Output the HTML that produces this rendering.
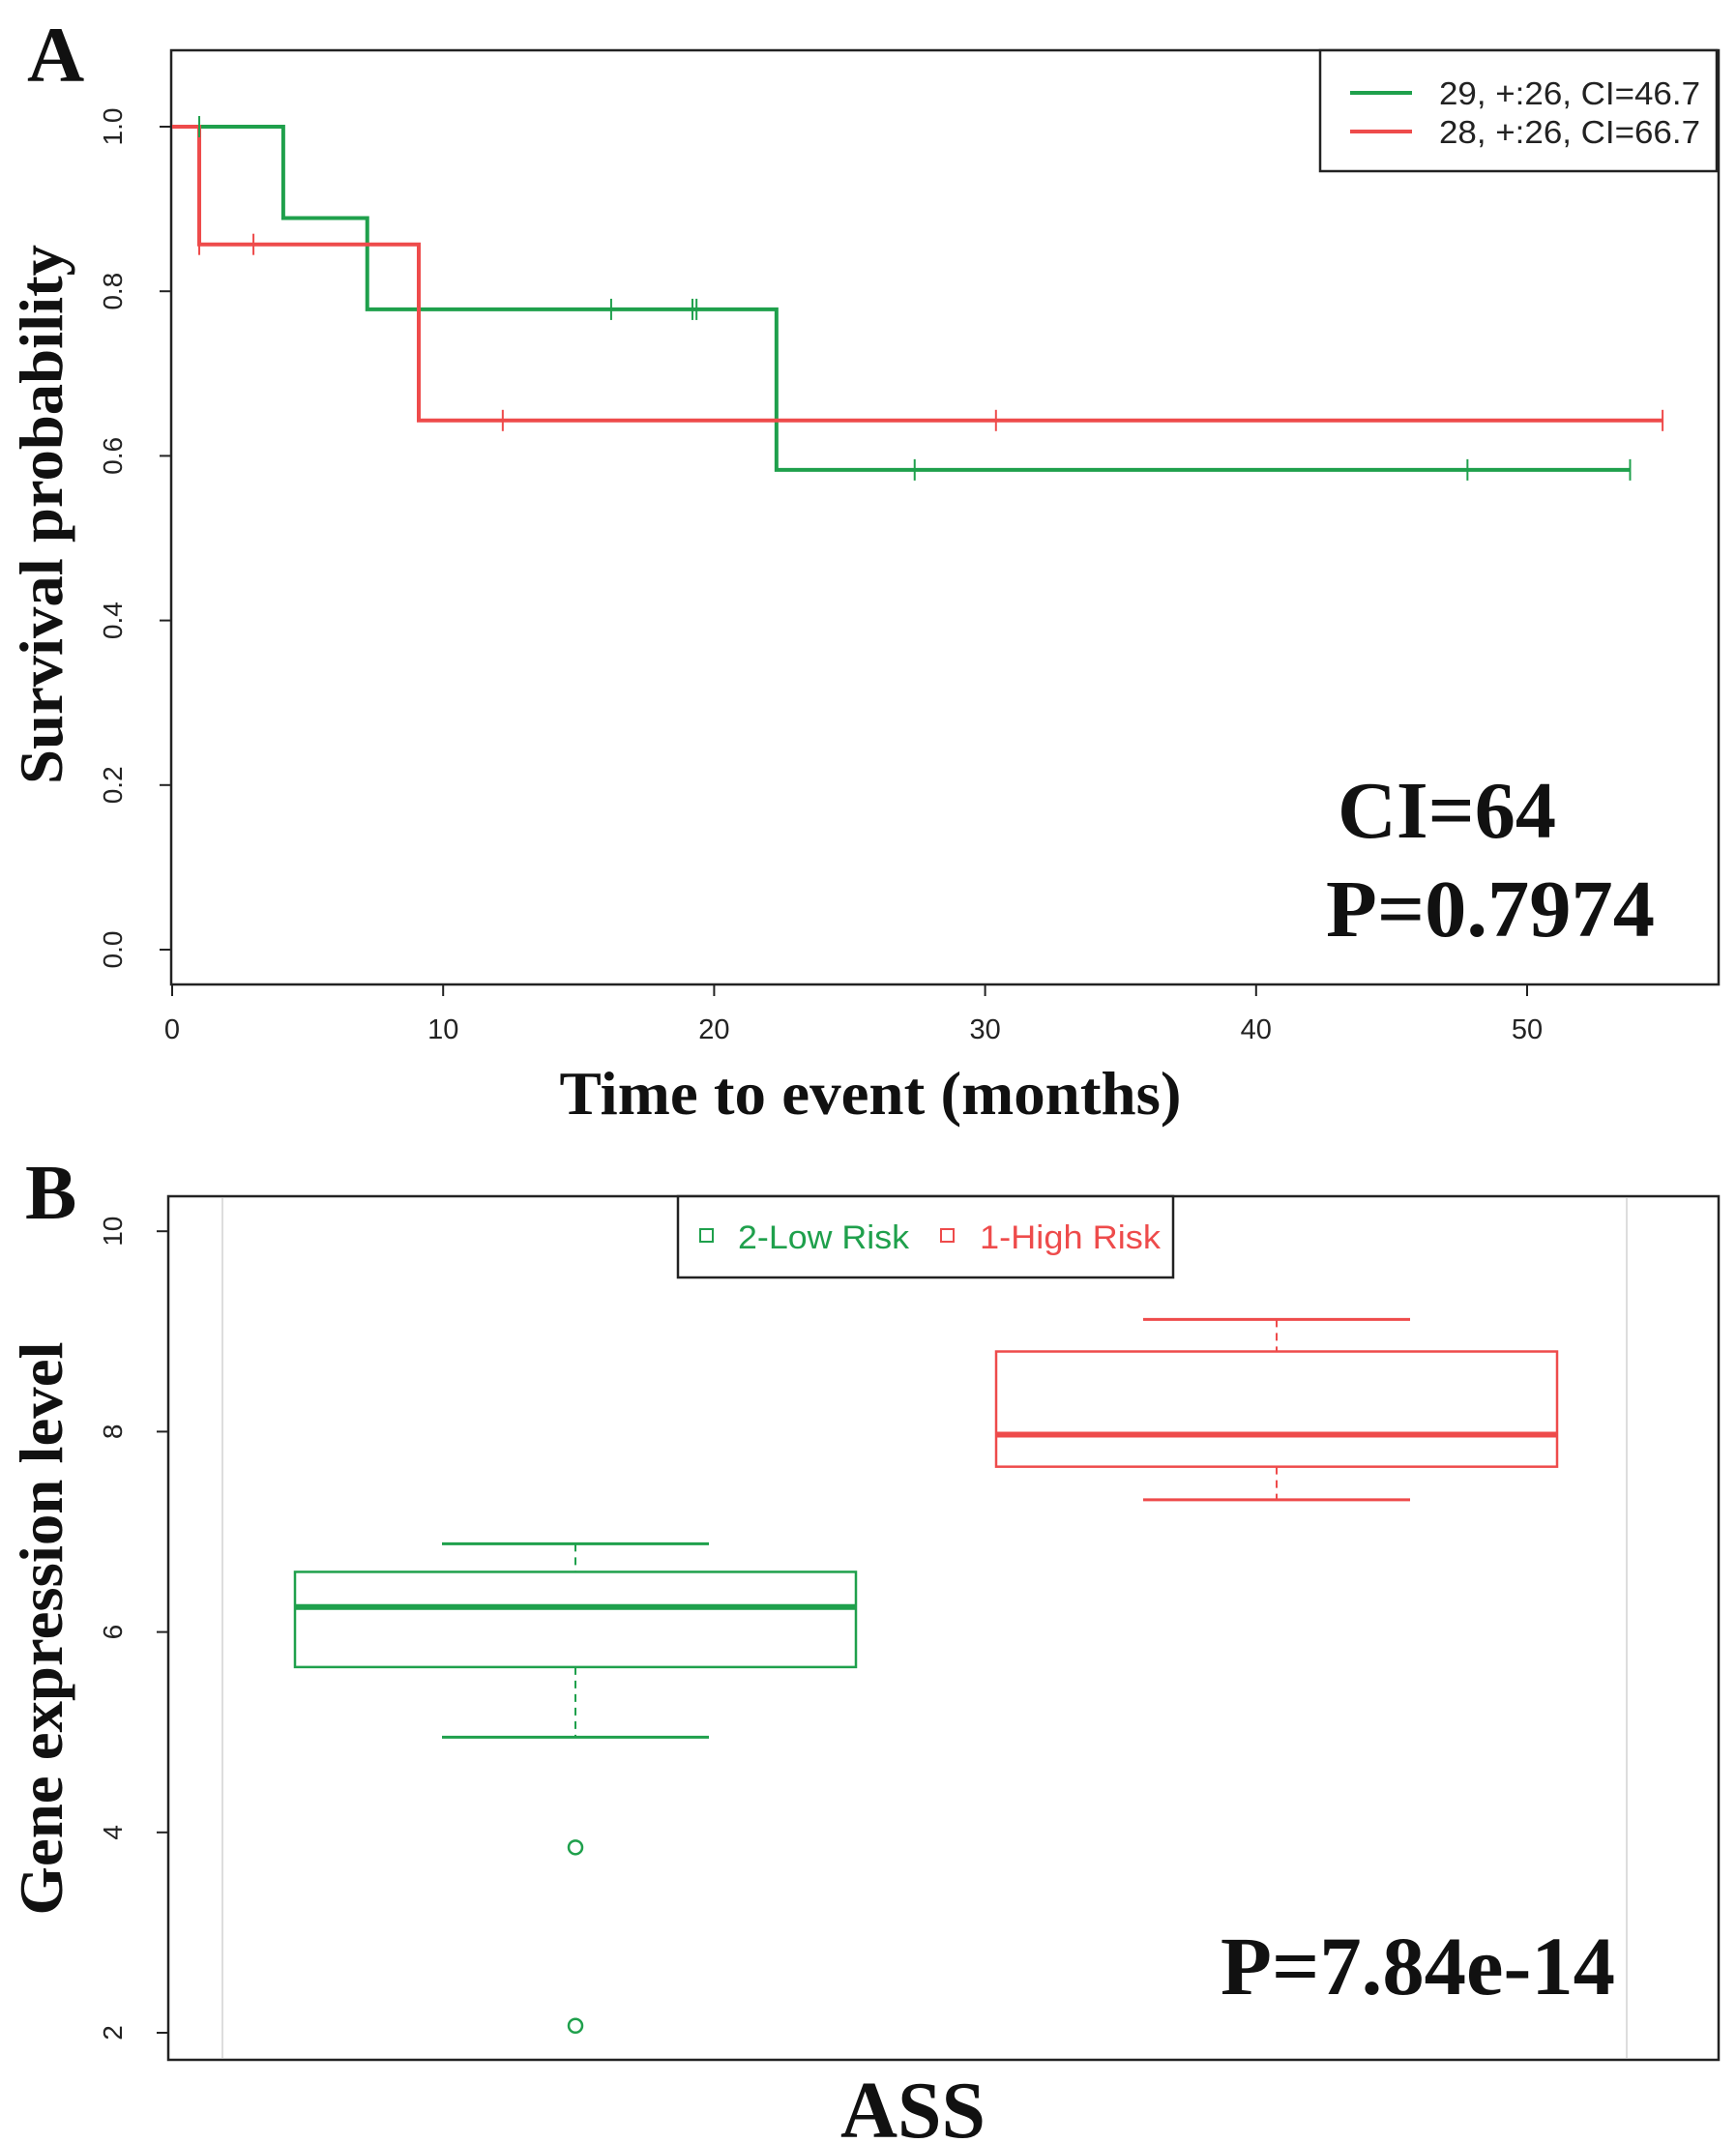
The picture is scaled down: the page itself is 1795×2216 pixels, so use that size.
<!DOCTYPE html>
<html><head><meta charset="utf-8"><style>
html,body{margin:0;padding:0;background:#fff;}
svg{display:block;}
</style></head><body>
<svg id="fig" width="1795" height="2216" viewBox="0 0 1795 2216" xmlns="http://www.w3.org/2000/svg">
<g id="pa"></g>
<g id="pb"></g>
</svg>
<script>
// ---- Panel A data ----
const kmTimesGreen = [0, 4.1, 7.2, 22.3, 53.8];
const kmSurvGreen = [1.0, 0.889, 0.778, 0.583, 0.583];
const censorGreenT = [1.0, 16.2, 19.2, 19.35, 27.4, 47.8, 53.8];
const kmTimesRed = [0, 1.0, 9.1, 55.0];
const kmSurvRed = [1.0, 0.857, 0.643, 0.643];
const censorRedT = [1.0, 3.0, 12.2, 30.4, 55.0];
const xTicksA = [0, 10, 20, 30, 40, 50];
const yTicksA = [0.0, 0.2, 0.4, 0.6, 0.8, 1.0];
const legendA = ["29, +:26, CI=46.7", "28, +:26, CI=66.7"];
// ---- Panel B data ----
const groupsB = ["2-Low Risk", "1-High Risk"];
const boxStats = [[4.95, 5.65, 6.25, 6.6, 6.88], [7.32, 7.65, 7.97, 8.8, 9.12]];
const outliersB = [[3.85, 2.07], []];
const yTicksB = [2, 4, 6, 8, 10];

const NS = "http://www.w3.org/2000/svg";
const GREEN = "#1fa04c", RED = "#ee4b4b";
function mk(parent, tag, attrs, text) {
  const e = document.createElementNS(NS, tag);
  for (const k in attrs) e.setAttribute(k, attrs[k]);
  if (text !== undefined) e.textContent = text;
  parent.appendChild(e);
  return e;
}
// ===== Panel A =====
const pa = document.getElementById('pa');
const xA = t => 178 + t * 28.02;
const yA = s => 982 - s * 851;
let e;
e = mk(pa, 'rect', {x:177, y:52, width:1600, height:966, fill:'none', stroke:'#222', 'stroke-width':2.5});
 
xTicksA.forEach(v => {
  e = mk(pa, 'line', {x1:xA(v), x2:xA(v), y1:1018, y2:1030, stroke:'#222', 'stroke-width':2});
   
  e = mk(pa, 'text', {x:xA(v), y:1074, 'text-anchor':'middle', 'font-family':'Liberation Sans, sans-serif', 'font-size':29, fill:'#222'}, String(v));
   
});
yTicksA.forEach(v => {
  e = mk(pa, 'line', {x1:165, x2:177, y1:yA(v), y2:yA(v), stroke:'#222', 'stroke-width':2});
   
  e = mk(pa, 'text', {x:0, y:0, transform:`translate(126,${yA(v)}) rotate(-90)`, 'text-anchor':'middle', 'font-family':'Liberation Sans, sans-serif', 'font-size':28, fill:'#222'}, v.toFixed(1));
   
});
function km(times, surv, color, name) {
  let d = `M${xA(times[0])},${yA(surv[0])}`;
  for (let i = 1; i < times.length; i++) {
    d += ` H${xA(times[i])} V${yA(surv[i])}`;
  }
  const p = mk(pa, 'path', {d, fill:'none', stroke:color, 'stroke-width':4});
   
}
function survAt(times, surv, t) {
  let s = surv[0];
  for (let i = 0; i < times.length; i++) if (t >= times[i]) s = surv[i];
  return s;
}
km(kmTimesGreen, kmSurvGreen, GREEN, 'green-survival-curve');
km(kmTimesRed, kmSurvRed, RED, 'red-survival-curve');
censorGreenT.forEach(t => {
  const s = survAt(kmTimesGreen, kmSurvGreen, t);
  e = mk(pa, 'line', {x1:xA(t), x2:xA(t), y1:yA(s)-11, y2:yA(s)+11, stroke:GREEN, 'stroke-width':2});
   
});
censorRedT.forEach(t => {
  const s = survAt(kmTimesRed, kmSurvRed, t);
  e = mk(pa, 'line', {x1:xA(t), x2:xA(t), y1:yA(s)-11, y2:yA(s)+11, stroke:RED, 'stroke-width':2});
   
});
e = mk(pa, 'rect', {x:1365, y:52, width:410, height:125, fill:'#fff', stroke:'#222', 'stroke-width':2.5});
 
[GREEN, RED].forEach((c, i) => {
  const y = 96 + i * 40;
  e = mk(pa, 'line', {x1:1396, x2:1460, y1:y, y2:y, stroke:c, 'stroke-width':4});
   
  e = mk(pa, 'text', {x:1488, y:y+12, 'font-family':'Liberation Sans, sans-serif', 'font-size':33, textLength:270, lengthAdjust:'spacingAndGlyphs', fill:'#222'}, legendA[i]);
   
});
const serif = 'Liberation Serif, serif';
e = mk(pa, 'text', {x:28, y:84, 'font-family':serif, 'font-weight':'bold', 'font-size':82, fill:'#111'}, 'A');
 
e = mk(pa, 'text', {x:1383, y:866, 'font-family':serif, 'font-weight':'bold', 'font-size':84, textLength:226, lengthAdjust:'spacingAndGlyphs', fill:'#111'}, 'CI=64');
 
e = mk(pa, 'text', {x:1371, y:968, 'font-family':serif, 'font-weight':'bold', 'font-size':84, textLength:340, lengthAdjust:'spacingAndGlyphs', fill:'#111'}, 'P=0.7974');
 
e = mk(pa, 'text', {x:900, y:1152, 'text-anchor':'middle', 'font-family':serif, 'font-weight':'bold', 'font-size':64, textLength:643, lengthAdjust:'spacingAndGlyphs', fill:'#111'}, 'Time to event (months)');
 
e = mk(pa, 'text', {x:0, y:0, transform:'translate(64,532) rotate(-90)', 'text-anchor':'middle', 'font-family':serif, 'font-weight':'bold', 'font-size':64, textLength:558, lengthAdjust:'spacingAndGlyphs', fill:'#111'}, 'Survival probability');
 

// ===== Panel B =====
const pb = document.getElementById('pb');
const yB = v => 2102 - (v - 2) * 103.6;
const centersB = [595, 1320];
const halfW = 290, capHalf = 138;
e = mk(pb, 'rect', {x:174, y:1237, width:1603, height:893, fill:'none', stroke:'#222', 'stroke-width':2.5});
 
[230, 1682].forEach(x => {
  e = mk(pb, 'line', {x1:x, x2:x, y1:1239, y2:2128, stroke:'#ddd', 'stroke-width':2});
   
});
yTicksB.forEach(v => {
  e = mk(pb, 'line', {x1:162, x2:174, y1:yB(v), y2:yB(v), stroke:'#222', 'stroke-width':2});
   
  e = mk(pb, 'text', {x:0, y:0, transform:`translate(126,${yB(v)}) rotate(-90)`, 'text-anchor':'middle', 'font-family':'Liberation Sans, sans-serif', 'font-size':28, fill:'#222'}, String(v));
   
});
boxStats.forEach((st, i) => {
  const c = i === 0 ? GREEN : RED, cx = centersB[i];
  const [lo, q1, med, q3, hi] = st;
  e = mk(pb, 'line', {x1:cx, x2:cx, y1:yB(hi), y2:yB(q3), stroke:c, 'stroke-width':2, 'stroke-dasharray':'8,6'});
   
  e = mk(pb, 'line', {x1:cx, x2:cx, y1:yB(q1), y2:yB(lo), stroke:c, 'stroke-width':2, 'stroke-dasharray':'8,6'});
   
  [hi, lo].forEach(v => {
    e = mk(pb, 'line', {x1:cx-capHalf, x2:cx+capHalf, y1:yB(v), y2:yB(v), stroke:c, 'stroke-width':3});
     
  });
  e = mk(pb, 'rect', {x:cx-halfW, y:yB(q3), width:halfW*2, height:yB(q1)-yB(q3), fill:'none', stroke:c, 'stroke-width':2.5});
   
  e = mk(pb, 'line', {x1:cx-halfW, x2:cx+halfW, y1:yB(med), y2:yB(med), stroke:c, 'stroke-width':6});
   
  outliersB[i].forEach(v => {
    e = mk(pb, 'circle', {cx, cy:yB(v), r:7, fill:'none', stroke:c, 'stroke-width':2.5});
     
  });
});
e = mk(pb, 'rect', {x:701, y:1237, width:512, height:84, fill:'#fff', stroke:'#222', 'stroke-width':2.5});
 
const legX = [[724, 763], [973, 1013]];
const legW = [177, 187];
groupsB.forEach((g, i) => {
  const c = i === 0 ? GREEN : RED;
  e = mk(pb, 'rect', {x:legX[i][0], y:1271, width:13, height:13, fill:'none', stroke:c, 'stroke-width':2});
   
  e = mk(pb, 'text', {x:legX[i][1], y:1291, 'font-family':'Liberation Sans, sans-serif', 'font-size':34, textLength:legW[i], lengthAdjust:'spacingAndGlyphs', fill:c}, g);
   
});
e = mk(pb, 'text', {x:26, y:1260, 'font-family':serif, 'font-weight':'bold', 'font-size':80, fill:'#111'}, 'B');
 
e = mk(pb, 'text', {x:1262, y:2062, 'font-family':serif, 'font-weight':'bold', 'font-size':86, textLength:408, lengthAdjust:'spacingAndGlyphs', fill:'#111'}, 'P=7.84e-14');
 
e = mk(pb, 'text', {x:944, y:2210, 'text-anchor':'middle', 'font-family':serif, 'font-weight':'bold', 'font-size':84, textLength:150, lengthAdjust:'spacingAndGlyphs', fill:'#111'}, 'ASS');
 
e = mk(pb, 'text', {x:0, y:0, transform:'translate(64,1684) rotate(-90)', 'text-anchor':'middle', 'font-family':serif, 'font-weight':'bold', 'font-size':64, textLength:593, lengthAdjust:'spacingAndGlyphs', fill:'#111'}, 'Gene expression level');
 
</script>
</body></html>
